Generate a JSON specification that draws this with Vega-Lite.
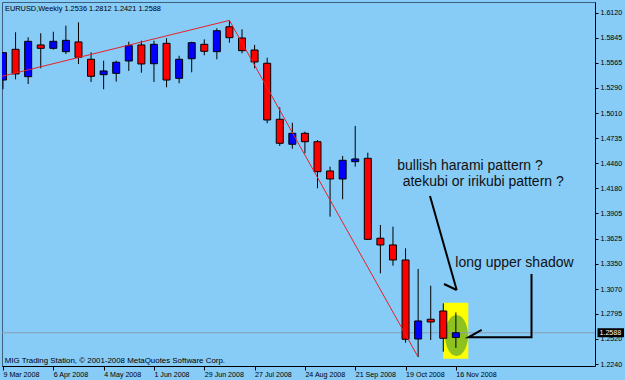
{
  "$schema": "https://vega.github.io/schema/vega-lite/v6.json",
  "width": 593,
  "height": 364,
  "autosize": {"type": "none"},
  "padding": {"left": 2, "top": 2, "right": 30, "bottom": 14},
  "background": "#87CBF7",
  "config": {
    "view": {"stroke": "#3f5f7f", "strokeWidth": 1, "fill": "#87CBF7"},
    "font": "Liberation Sans",
    "scale": {"continuousPadding": 0},
    "axis": {"labelOverlap": false, "labelFlush": false, "labelBound": false, "grid": false}
  },
  "datasets": {
    "candles": [
      {"date": "2008-03-09T00:00:00Z", "open": 1.5377, "high": 1.5685, "low": 1.5275, "close": 1.5679},
      {"date": "2008-03-16T00:00:00Z", "open": 1.5716, "high": 1.5904, "low": 1.5385, "close": 1.5444},
      {"date": "2008-03-23T00:00:00Z", "open": 1.5414, "high": 1.5849, "low": 1.5333, "close": 1.5804},
      {"date": "2008-03-30T00:00:00Z", "open": 1.5764, "high": 1.5893, "low": 1.5506, "close": 1.5727},
      {"date": "2008-04-06T00:00:00Z", "open": 1.5727, "high": 1.5910, "low": 1.5712, "close": 1.5804},
      {"date": "2008-04-13T00:00:00Z", "open": 1.5690, "high": 1.5977, "low": 1.5664, "close": 1.5815},
      {"date": "2008-04-20T00:00:00Z", "open": 1.5797, "high": 1.6014, "low": 1.5554, "close": 1.5628},
      {"date": "2008-04-27T00:00:00Z", "open": 1.5606, "high": 1.5683, "low": 1.5355, "close": 1.5418},
      {"date": "2008-05-04T00:00:00Z", "open": 1.5436, "high": 1.5590, "low": 1.5275, "close": 1.5477},
      {"date": "2008-05-11T00:00:00Z", "open": 1.5451, "high": 1.5590, "low": 1.5359, "close": 1.5573},
      {"date": "2008-05-18T00:00:00Z", "open": 1.5587, "high": 1.5800, "low": 1.5477, "close": 1.5756},
      {"date": "2008-05-25T00:00:00Z", "open": 1.5764, "high": 1.5811, "low": 1.5458, "close": 1.5554},
      {"date": "2008-06-01T00:00:00Z", "open": 1.5557, "high": 1.5811, "low": 1.5355, "close": 1.5771},
      {"date": "2008-06-08T00:00:00Z", "open": 1.5782, "high": 1.5838, "low": 1.5297, "close": 1.5377},
      {"date": "2008-06-15T00:00:00Z", "open": 1.5396, "high": 1.5645, "low": 1.5341, "close": 1.5606},
      {"date": "2008-06-22T00:00:00Z", "open": 1.5612, "high": 1.5800, "low": 1.5462, "close": 1.5789},
      {"date": "2008-06-29T00:00:00Z", "open": 1.5771, "high": 1.5826, "low": 1.5650, "close": 1.5694},
      {"date": "2008-07-06T00:00:00Z", "open": 1.5690, "high": 1.5948, "low": 1.5606, "close": 1.5921},
      {"date": "2008-07-13T00:00:00Z", "open": 1.5965, "high": 1.6035, "low": 1.5789, "close": 1.5844},
      {"date": "2008-07-20T00:00:00Z", "open": 1.5841, "high": 1.5937, "low": 1.5672, "close": 1.5701},
      {"date": "2008-07-27T00:00:00Z", "open": 1.5708, "high": 1.5764, "low": 1.5506, "close": 1.5576},
      {"date": "2008-08-03T00:00:00Z", "open": 1.5562, "high": 1.5623, "low": 1.4900, "close": 1.4936},
      {"date": "2008-08-10T00:00:00Z", "open": 1.4944, "high": 1.5076, "low": 1.4649, "close": 1.4679},
      {"date": "2008-08-17T00:00:00Z", "open": 1.4668, "high": 1.4906, "low": 1.4619, "close": 1.4789},
      {"date": "2008-08-24T00:00:00Z", "open": 1.4789, "high": 1.4807, "low": 1.4568, "close": 1.4696},
      {"date": "2008-08-31T00:00:00Z", "open": 1.4696, "high": 1.4715, "low": 1.4182, "close": 1.4365},
      {"date": "2008-09-07T00:00:00Z", "open": 1.4373, "high": 1.4421, "low": 1.3869, "close": 1.4285},
      {"date": "2008-09-14T00:00:00Z", "open": 1.4285, "high": 1.4539, "low": 1.4061, "close": 1.4491},
      {"date": "2008-09-21T00:00:00Z", "open": 1.4476, "high": 1.4870, "low": 1.4421, "close": 1.4506},
      {"date": "2008-09-28T00:00:00Z", "open": 1.4513, "high": 1.4575, "low": 1.3612, "close": 1.3619},
      {"date": "2008-10-05T00:00:00Z", "open": 1.3631, "high": 1.3777, "low": 1.3244, "close": 1.3557},
      {"date": "2008-10-12T00:00:00Z", "open": 1.3557, "high": 1.3759, "low": 1.3328, "close": 1.3391},
      {"date": "2008-10-19T00:00:00Z", "open": 1.3391, "high": 1.3520, "low": 1.2478, "close": 1.2516},
      {"date": "2008-10-26T00:00:00Z", "open": 1.2519, "high": 1.3292, "low": 1.2320, "close": 1.2718},
      {"date": "2008-11-02T00:00:00Z", "open": 1.2737, "high": 1.3107, "low": 1.2508, "close": 1.2707},
      {"date": "2008-11-09T00:00:00Z", "open": 1.2828, "high": 1.2913, "low": 1.2379, "close": 1.2527},
      {"date": "2008-11-16T00:00:00Z", "open": 1.2536, "high": 1.2812, "low": 1.2421, "close": 1.2588}
    ],
    "trend": [
      {"seg": "t1", "date": "2008-03-08T00:00:00Z", "price": 1.5416},
      {"seg": "t1", "date": "2008-07-13T00:00:00Z", "price": 1.6035},
      {"seg": "t2", "date": "2008-07-13T00:00:00Z", "price": 1.6035},
      {"seg": "t2", "date": "2008-10-26T00:00:00Z", "price": 1.2320}
    ],
    "callouts": [
      {"seg": "a", "ord": 1, "date": "2008-11-01T14:24:00Z", "price": 1.4097},
      {"seg": "a", "ord": 2, "date": "2008-11-16T11:00:00Z", "price": 1.3060},
      {"seg": "b", "ord": 1, "date": "2008-11-09T09:36:00Z", "price": 1.3126},
      {"seg": "b", "ord": 2, "date": "2008-11-16T11:00:00Z", "price": 1.3060},
      {"seg": "c", "ord": 1, "date": "2008-12-28T02:10:00Z", "price": 1.3237},
      {"seg": "c", "ord": 2, "date": "2008-12-28T02:10:00Z", "price": 1.2538},
      {"seg": "c", "ord": 3, "date": "2008-11-23T00:43:00Z", "price": 1.2538},
      {"seg": "c", "ord": 4, "date": "2008-11-30T08:53:00Z", "price": 1.2619}
    ],
    "notes": [
      {"date": "2008-10-14T09:50:00Z", "price": 1.4384, "text": "bullish harami pattern ?"},
      {"date": "2008-10-17T09:50:00Z", "price": 1.4208, "text": "atekubi or irikubi pattern ?"},
      {"date": "2008-11-15T16:19:00Z", "price": 1.3314, "text": "long upper shadow"}
    ]
  },
  "layer": [
    {
      "data": {"values": [{"date": "2008-11-09T00:00:00Z", "date2": "2008-11-22T22:00:00Z", "price": 1.2920, "price2": 1.2302}]},
      "mark": {"type": "rect", "fill": "#FFFF00", "clip": true},
      "encoding": {
        "x": {"field": "date", "type": "temporal",
          "scale": {"type": "utc", "padding": 0, "domain": [{"year": 2008, "month": 3, "date": 8, "hours": 10, "minutes": 40, "utc": true}, {"year": 2009, "month": 2, "date": 1, "hours": 10, "minutes": 5, "utc": true}]},
          "axis": {
            "title": null, "grid": false, "orient": "bottom", "tickCount": 30,
            "values": [
              {"year": 2008, "month": 3, "date": 9, "utc": true},
              {"year": 2008, "month": 4, "date": 6, "utc": true},
              {"year": 2008, "month": 5, "date": 4, "utc": true},
              {"year": 2008, "month": 6, "date": 1, "utc": true},
              {"year": 2008, "month": 6, "date": 29, "utc": true},
              {"year": 2008, "month": 7, "date": 27, "utc": true},
              {"year": 2008, "month": 8, "date": 24, "utc": true},
              {"year": 2008, "month": 9, "date": 21, "utc": true},
              {"year": 2008, "month": 10, "date": 19, "utc": true},
              {"year": 2008, "month": 11, "date": 16, "utc": true}
            ],
            "format": "%-d %b %Y",
            "labelAlign": "left", "labelBaseline": "top", "labelPadding": 0, "labelOffset": 0,
            "labelFont": "Liberation Sans", "labelFontSize": 7.1, "labelColor": "#000000",
            "labelOverlap": false, "labelFlush": false, "labelBound": false,
            "tickSize": 4, "tickColor": "#000000", "domainColor": "#000000"
          }
        },
        "x2": {"field": "date2"},
        "y": {"field": "price", "type": "quantitative",
          "scale": {"domain": [1.2221, 1.6238], "zero": false, "nice": false, "padding": 0},
          "axis": {
            "title": null, "grid": false, "orient": "right", "tickCount": 30,
            "values": [1.224, 1.252, 1.2795, 1.307, 1.335, 1.3625, 1.3905, 1.418, 1.446, 1.4735, 1.501, 1.529, 1.5565, 1.5845, 1.612],
            "format": ".4f",
            "labelAlign": "left", "labelBaseline": "middle", "labelPadding": 2,
            "labelFont": "Liberation Sans", "labelFontSize": 7.1, "labelColor": "#000000",
            "labelOverlap": false, "labelFlush": false, "labelBound": false,
            "tickSize": 3, "tickColor": "#000000", "domainColor": "#000000"
          }
        },
        "y2": {"field": "price2"}
      }
    },
    {
      "data": {"values": [{"date": "2008-11-16T08:24:00Z", "price": 1.2558}]},
      "mark": {"type": "point", "shape": "M-0.561,0A0.561,1,0,1,0,0.561,0A0.561,1,0,1,0,-0.561,0Z", "size": 1681, "filled": true, "fill": "#8DC21F", "opacity": 1, "strokeWidth": 0, "clip": true},
      "encoding": {
        "x": {"field": "date", "type": "temporal"},
        "y": {"field": "price", "type": "quantitative"}
      }
    },
    {
      "data": {"values": [{"price": 1.2588}]},
      "mark": {"type": "rule", "color": "#8a9fb2", "strokeWidth": 1},
      "encoding": {
        "y": {"field": "price", "type": "quantitative"}
      }
    },
    {
      "data": {"name": "candles"},
      "mark": {"type": "rule", "color": "#000000", "strokeWidth": 1, "clip": true},
      "encoding": {
        "x": {"field": "date", "type": "temporal"},
        "y": {"field": "low", "type": "quantitative", "scale": {"domain": [1.2221, 1.6238], "zero": false, "nice": false, "padding": 0}},
        "y2": {"field": "high"}
      }
    },
    {
      "data": {"name": "candles"},
      "mark": {"type": "bar", "width": 7, "orient": "vertical", "stroke": "#000000", "strokeWidth": 1, "clip": true},
      "encoding": {
        "x": {"field": "date", "type": "temporal", "scale": {"type": "utc", "padding": 0}},
        "y": {"field": "open", "type": "quantitative", "scale": {"domain": [1.2221, 1.6238], "zero": false, "nice": false, "padding": 0}},
        "y2": {"field": "close"},
        "fill": {"condition": {"test": "datum.close >= datum.open", "value": "#0000FF"}, "value": "#FF0000"}
      }
    },
    {
      "data": {"name": "trend"},
      "mark": {"type": "line", "color": "#E8202A", "strokeWidth": 1, "clip": true},
      "encoding": {
        "x": {"field": "date", "type": "temporal"},
        "y": {"field": "price", "type": "quantitative"},
        "detail": {"field": "seg"}
      }
    },
    {
      "data": {"name": "callouts"},
      "mark": {"type": "line", "color": "#000000", "strokeWidth": 2, "clip": true},
      "encoding": {
        "x": {"field": "date", "type": "temporal"},
        "y": {"field": "price", "type": "quantitative"},
        "detail": {"field": "seg"},
        "order": {"field": "ord"}
      }
    },
    {
      "data": {"name": "notes"},
      "mark": {"type": "text", "align": "left", "baseline": "alphabetic", "font": "Liberation Sans", "fontSize": 14, "color": "#111111"},
      "encoding": {
        "x": {"field": "date", "type": "temporal"},
        "y": {"field": "price", "type": "quantitative"},
        "text": {"field": "text"}
      }
    },
    {
      "data": {"values": [{"date": "2008-03-10T02:40:00Z", "price": 1.6142, "text": "EURUSD,Weekly  1.2536 1.2812 1.2421 1.2588"}]},
      "mark": {"type": "text", "align": "left", "baseline": "alphabetic", "font": "Liberation Sans", "fontSize": 7.4, "color": "#000000"},
      "encoding": {
        "x": {"field": "date", "type": "temporal"},
        "y": {"field": "price", "type": "quantitative"},
        "text": {"field": "text"}
      }
    },
    {
      "data": {"values": [{"date": "2008-03-09T22:40:00Z", "price": 1.2258, "text": "MIG Trading Station, © 2001-2008 MetaQuotes Software Corp."}]},
      "mark": {"type": "text", "align": "left", "baseline": "alphabetic", "font": "Liberation Sans", "fontSize": 7.9, "color": "#000000"},
      "encoding": {
        "x": {"field": "date", "type": "temporal"},
        "y": {"field": "price", "type": "quantitative"},
        "text": {"field": "text"}
      }
    },
    {
      "data": {"values": [{"date": "2009-02-01T10:05:00Z", "price": 1.2588, "text": "1.2588"}]},
      "mark": {"type": "rect", "fill": "#000000", "xOffset": 2.5, "x2Offset": 29, "yOffset": -4.5, "y2Offset": 4.5, "clip": false},
      "encoding": {
        "x": {"field": "date", "type": "temporal"},
        "x2": {"field": "date"},
        "y": {"field": "price", "type": "quantitative"},
        "y2": {"field": "price"}
      }
    },
    {
      "data": {"values": [{"date": "2009-02-01T10:05:00Z", "price": 1.2588, "text": "1.2588"}]},
      "mark": {"type": "text", "align": "left", "baseline": "middle", "dx": 4.5, "font": "Liberation Sans", "fontSize": 7.1, "color": "#FFFFFF", "clip": false},
      "encoding": {
        "x": {"field": "date", "type": "temporal"},
        "y": {"field": "price", "type": "quantitative"},
        "text": {"field": "text"}
      }
    }
  ]
}
